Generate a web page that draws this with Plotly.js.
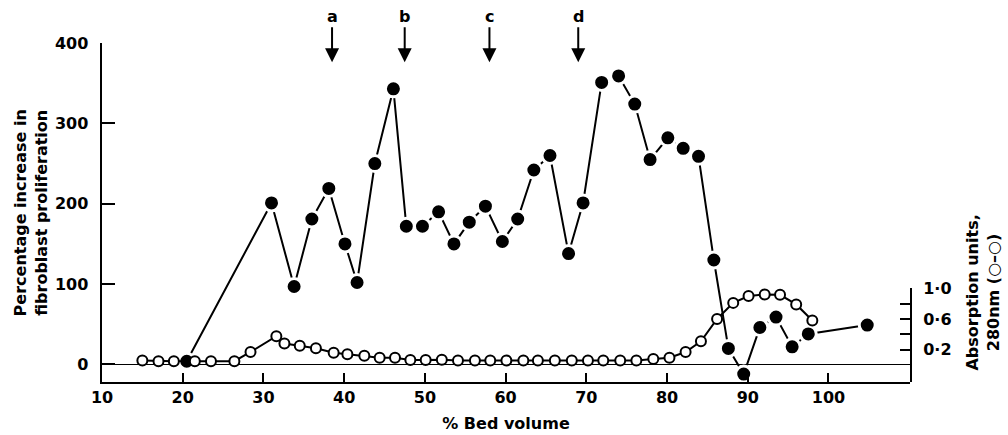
<!DOCTYPE html>
<html>
<head>
<meta charset="utf-8">
<script src="https://cdn.plot.ly/plotly-3.0.1.min.js"></script>
<style>html,body{margin:0;padding:0;background:#fff;}#chart{width:1008px;height:435px;}</style>
</head>
<body>
<div id="chart"></div>
<script>
// Filled circles: % increase in fibroblast proliferation
const prolifX = [20.5, 31.0, 33.8, 36.0, 38.1, 40.1, 41.6, 43.8, 46.1, 47.7, 49.7, 51.7, 53.6, 55.5, 57.5, 59.6, 61.5, 63.5, 65.5, 67.8, 69.6, 71.9, 74.0, 76.0, 77.9, 80.1, 82.0, 83.9, 85.8, 87.6, 89.5, 91.5, 93.5, 95.5, 97.5, 104.8];
const prolifY = [4, 201, 97, 181, 219, 150, 102, 250, 343, 172, 172, 190, 150, 177, 197, 153, 181, 242, 260, 138, 201, 351, 359, 324, 255, 282, 269, 259, 130, 20, -12, 46, 59, 22, 38, 49];

// Open circles: absorption at 280 nm
const absX = [15.0, 17.0, 18.9, 21.5, 23.5, 26.4, 28.4, 31.6, 32.6, 34.5, 36.5, 38.7, 40.4, 42.5, 44.4, 46.3, 48.2, 50.1, 52.1,
              54.1, 56.2, 58.1, 60.1, 62.2, 64.0, 66.1, 68.2, 70.2, 72.1, 74.2, 76.2,
              78.3, 80.3, 82.3, 84.2, 86.2, 88.2, 90.1, 92.1, 94.0, 96.0, 98.0];
const absY = [0.06, 0.05, 0.05, 0.05, 0.05, 0.05, 0.17, 0.375, 0.28, 0.25, 0.22, 0.16, 0.14, 0.12, 0.095, 0.095, 0.065, 0.065, 0.07,
              0.06, 0.06, 0.06, 0.06, 0.06, 0.06, 0.06, 0.06, 0.06, 0.06, 0.06, 0.06,
              0.08, 0.095, 0.17, 0.31, 0.60, 0.81, 0.90, 0.92, 0.915, 0.79, 0.58];

// Fraction markers
const fracLabels = ['a', 'b', 'c', 'd'];
const fracPos = [38.5, 47.5, 58.0, 69.0];
const fracTipY = 376;

const xTicks = [10, 20, 30, 40, 50, 60, 70, 80, 90, 100];
const yTicks = [0, 100, 200, 300, 400];
const y2Ticks = [0.2, 0.4, 0.6, 0.8, 1.0];
const y2TickText = ['0·2', '', '0·6', '', '1·0'];

const FONT = {family: 'DejaVu Sans', weight: 'bold', size: 16, color: '#000'};

const traces = [
  {
    x: absX, y: absY, xaxis: 'x', yaxis: 'y2', type: 'scatter', mode: 'lines+markers',
    line: {color: '#000', width: 2},
    marker: {symbol: 'circle', size: 10, color: '#fff', line: {color: '#000', width: 2}},
    cliponaxis: false, hoverinfo: 'x+y'
  },
  {
    x: prolifX, y: prolifY, xaxis: 'x', yaxis: 'y', type: 'scatter', mode: 'lines+markers',
    line: {color: '#000', width: 2},
    marker: {symbol: 'circle', size: 16, color: '#000', line: {color: '#fff', width: 3}},
    cliponaxis: false, hoverinfo: 'x+y'
  }
];

const annotations = fracLabels.map((t, i) => ({
  x: fracPos[i], y: fracTipY, xref: 'x', yref: 'y', text: t,
  showarrow: true, ax: 0, ay: -46, arrowhead: 2, arrowsize: 1.4, arrowwidth: 2,
  arrowcolor: '#000', font: FONT
}));
annotations.push({
  xref: 'paper', yref: 'paper', x: -0.088, y: 0.5, xanchor: 'center', yanchor: 'middle',
  text: 'Percentage increase in<br>fibroblast proliferation', textangle: -90,
  showarrow: false, font: FONT
});
annotations.push({
  xref: 'paper', yref: 'paper', x: 1.09, y: 0.263, xanchor: 'center', yanchor: 'middle',
  text: 'Absorption units,<br>280nm (○–○)', textangle: -90,
  showarrow: false, font: FONT
});

const layout = {
  width: 1008, height: 435,
  margin: {l: 102, r: 98, t: 43, b: 53},
  paper_bgcolor: '#fff', plot_bgcolor: 'rgba(0,0,0,0)',
  showlegend: false,
  font: FONT,
  xaxis: {
    range: [10, 110.1], tickvals: xTicks, ticks: 'inside', ticklen: 9, tickwidth: 2, tickcolor: '#000',
    showline: true, linecolor: '#000', linewidth: 2, showgrid: false, zeroline: false,
    tickfont: FONT, ticklabelstandoff: 0,
    title: {text: '% Bed volume', font: FONT, standoff: 12}
  },
  yaxis: {
    range: [-21.8, 400], tickvals: yTicks, ticks: 'inside', ticklen: 13, tickwidth: 2, tickcolor: '#000',
    showline: true, linecolor: '#000', linewidth: 2.5, showgrid: false,
    zeroline: true, zerolinecolor: '#000', zerolinewidth: 1.2,
    tickfont: FONT, ticklabelstandoff: 8
  },
  yaxis2: {
    domain: [0, 0.2764], anchor: 'x', side: 'right',
    range: [-0.221, 1.0], tickvals: y2Ticks, ticktext: y2TickText,
    ticks: 'inside', ticklen: 10, tickwidth: 2, tickcolor: '#000',
    showline: true, linecolor: '#000', linewidth: 2, showgrid: false, zeroline: false,
    tickfont: FONT, ticklabelstandoff: 8
  },
  annotations: annotations
};

Plotly.newPlot('chart', traces, layout, {staticPlot: true, displayModeBar: false});
</script>
</body>
</html>
